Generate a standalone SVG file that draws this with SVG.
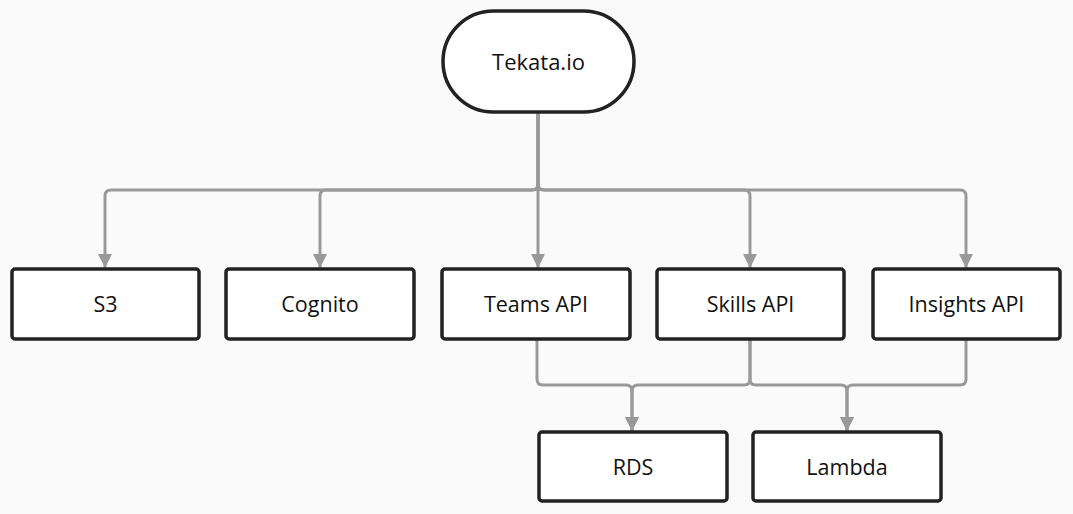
<svg xmlns="http://www.w3.org/2000/svg" width="1073" height="514" viewBox="0 0 1073 514">
<defs>
<marker id="arr" markerUnits="userSpaceOnUse" markerWidth="16" markerHeight="14" refX="14" refY="7" orient="auto">
<path d="M0,0 L14,7 L0,14 Z" fill="#999"/>
</marker>
<style>
.node rect{fill:#fff;stroke:#222;stroke-width:3.5}
.node text{font-family:"Open Sans","Noto Sans",sans-serif;font-size:21.5px;fill:#111;text-anchor:middle;dominant-baseline:central}
.edge{fill:none;stroke:#999;stroke-width:3;marker-end:url(#arr)}
</style>
</defs>
<rect width="1073" height="514" fill="#fafafa"/>
<g id="connectors">
<path class="edge" d="M538,112 V184 Q538,190 532,190 H111 Q105,190 105,196 V268"/>
<path class="edge" d="M538,112 V184 Q538,190 532,190 H326 Q320,190 320,196 V268"/>
<path class="edge" d="M538,112 V268"/>
<path class="edge" d="M538,112 V184 Q538,190 544,190 H744 Q750,190 750,196 V268"/>
<path class="edge" d="M538,112 V184 Q538,190 544,190 H960 Q966,190 966,196 V268"/>
<path class="edge" d="M537,340 V379 Q537,385 543,385 H626 Q632,385 632,391 V431"/>
<path class="edge" d="M750,340 V379 Q750,385 744,385 H638 Q632,385 632,391 V431"/>
<path class="edge" d="M750,340 V379 Q750,385 756,385 H841 Q847,385 847,391 V431"/>
<path class="edge" d="M966,340 V379 Q966,385 960,385 H853 Q847,385 847,391 V431"/>
</g>
<g id="tekata" class="node"><rect x="443" y="11" width="191" height="101" rx="50.5"/><text x="538.5" y="61" style="font-size:22px">Tekata.io</text></g>
<g id="s3" class="node"><rect x="12" y="269" width="187" height="70" rx="3"/><text x="105.5" y="303">S3</text></g>
<g id="cognito" class="node"><rect x="226" y="269" width="188" height="70" rx="3"/><text x="320" y="303">Cognito</text></g>
<g id="teams" class="node"><rect x="442" y="269" width="188" height="70" rx="3"/><text x="536" y="303">Teams API</text></g>
<g id="skills" class="node"><rect x="657" y="269" width="187" height="70" rx="3"/><text x="750.5" y="303">Skills API</text></g>
<g id="insights" class="node"><rect x="873" y="269" width="187" height="70" rx="3"/><text x="966.5" y="303">Insights API</text></g>
<g id="rds" class="node"><rect x="539" y="432" width="188" height="69" rx="3"/><text x="633" y="466">RDS</text></g>
<g id="lambda" class="node"><rect x="753" y="432" width="188" height="69" rx="3"/><text x="847" y="466">Lambda</text></g>
</svg>
